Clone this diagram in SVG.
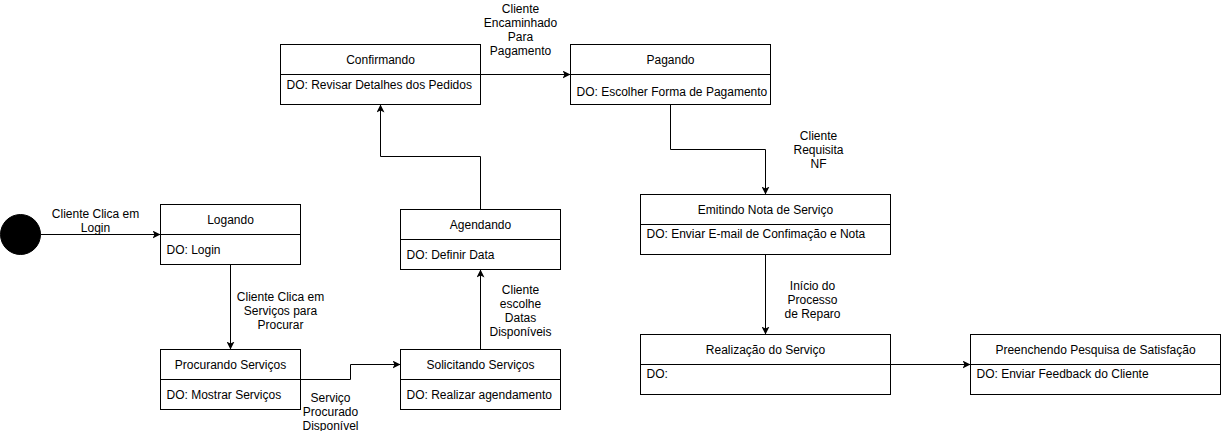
<svg xmlns="http://www.w3.org/2000/svg" width="1221" height="431" viewBox="0 0 1221 431">
<defs>
<style>
.box{fill:#fff;stroke:#000;stroke-width:1}
.div{stroke:#000;stroke-width:1;fill:none}
.edge{stroke:#000;stroke-width:1;fill:none}
text{font-family:"Liberation Sans",Arial,sans-serif;font-size:12px;fill:#000}
.c{text-anchor:middle}
</style>
<marker id="arr" viewBox="0 0 8 8" refX="8" refY="4" markerWidth="8" markerHeight="8" markerUnits="userSpaceOnUse" orient="auto">
<path d="M0,0 L8,4 L0,8 L2,4 Z" fill="#000" stroke="none"/>
</marker>
</defs>
<rect width="1221" height="431" fill="#fff"/>
<g transform="translate(0.5,0.5)">
<g id="connectors">
<path class="edge" d="M40,234 L160,234" marker-end="url(#arr)"/>
<path class="edge" d="M230,264 L230,349" marker-end="url(#arr)"/>
<path class="edge" d="M300,379 L350,379 L350,364 L400,364" marker-end="url(#arr)"/>
<path class="edge" d="M480,349 L480,269" marker-end="url(#arr)"/>
<path class="edge" d="M480,209 L480,156 L380,156 L380,104" marker-end="url(#arr)"/>
<path class="edge" d="M480,74 L570,74" marker-end="url(#arr)"/>
<path class="edge" d="M670,104 L670,149 L765,149 L765,194" marker-end="url(#arr)"/>
<path class="edge" d="M765,254 L765,334" marker-end="url(#arr)"/>
<path class="edge" d="M890,364 L970,364" marker-end="url(#arr)"/>
<text class="c" x="95" y="217">Cliente Clica em</text>
<text class="c" x="95" y="231">Login</text>
<text class="c" x="280" y="300">Cliente Clica em</text>
<text class="c" x="280" y="314">Serviços para</text>
<text class="c" x="280" y="328">Procurar</text>
<text class="c" x="330" y="401">Serviço</text>
<text class="c" x="330" y="415">Procurado</text>
<text class="c" x="330" y="429">Disponível</text>
<text class="c" x="520" y="293">Cliente</text>
<text class="c" x="520" y="307">escolhe</text>
<text class="c" x="520" y="321">Datas</text>
<text class="c" x="520" y="335">Disponíveis</text>
<text class="c" x="520" y="12">Cliente</text>
<text class="c" x="520" y="26">Encaminhado</text>
<text class="c" x="520" y="40">Para</text>
<text class="c" x="520" y="54">Pagamento</text>
<text class="c" x="818" y="139">Cliente</text>
<text class="c" x="818" y="153">Requisita</text>
<text class="c" x="818" y="167">NF</text>
<text class="c" x="812" y="289">Início do</text>
<text class="c" x="812" y="303">Processo</text>
<text class="c" x="812" y="317">de Reparo</text>
</g>
<g id="start"><circle cx="20" cy="234" r="20" fill="#000" stroke="#000"/></g>
<g id="logando">
<rect class="box" x="160" y="204" width="140" height="60"/>
<path class="div" d="M160,234 L300,234"/>
<text class="c" x="230" y="223">Logando</text>
<text x="166" y="253">DO: Login</text>
</g>
<g id="procurando">
<rect class="box" x="160" y="349" width="140" height="60"/>
<path class="div" d="M160,379 L300,379"/>
<text class="c" x="230" y="368">Procurando Serviços</text>
<text x="166" y="398">DO: Mostrar Serviços</text>
</g>
<g id="solicitando">
<rect class="box" x="400" y="349" width="160" height="60"/>
<path class="div" d="M400,379 L560,379"/>
<text class="c" x="480" y="368">Solicitando Serviços</text>
<text x="406" y="398">DO: Realizar agendamento</text>
</g>
<g id="agendando">
<rect class="box" x="400" y="209" width="160" height="60"/>
<path class="div" d="M400,239 L560,239"/>
<text class="c" x="480" y="228">Agendando</text>
<text x="406" y="258">DO: Definir Data</text>
</g>
<g id="confirmando">
<rect class="box" x="280" y="44" width="200" height="60"/>
<path class="div" d="M280,74 L480,74"/>
<text class="c" x="380" y="63">Confirmando</text>
<text x="286" y="88">DO: Revisar Detalhes dos Pedidos</text>
</g>
<g id="pagando">
<rect class="box" x="570" y="44" width="200" height="60"/>
<path class="div" d="M570,74 L770,74"/>
<text class="c" x="670" y="63">Pagando</text>
<text x="576" y="95">DO: Escolher Forma de Pagamento</text>
</g>
<g id="emitindo">
<rect class="box" x="640" y="194" width="250" height="60"/>
<path class="div" d="M640,224 L890,224"/>
<text class="c" x="765" y="213">Emitindo Nota de Serviço</text>
<text x="646" y="237">DO: Enviar E-mail de Confimação e Nota</text>
</g>
<g id="realizacao">
<rect class="box" x="640" y="334" width="250" height="60"/>
<path class="div" d="M640,364 L890,364"/>
<text class="c" x="765" y="353">Realização do Serviço</text>
<text x="646" y="377">DO:</text>
</g>
<g id="preenchendo">
<rect class="box" x="970" y="334" width="250" height="60"/>
<path class="div" d="M970,364 L1220,364"/>
<text class="c" x="1095" y="353">Preenchendo Pesquisa de Satisfação</text>
<text x="976" y="377">DO: Enviar Feedback do Cliente</text>
</g>
</g>
</svg>
